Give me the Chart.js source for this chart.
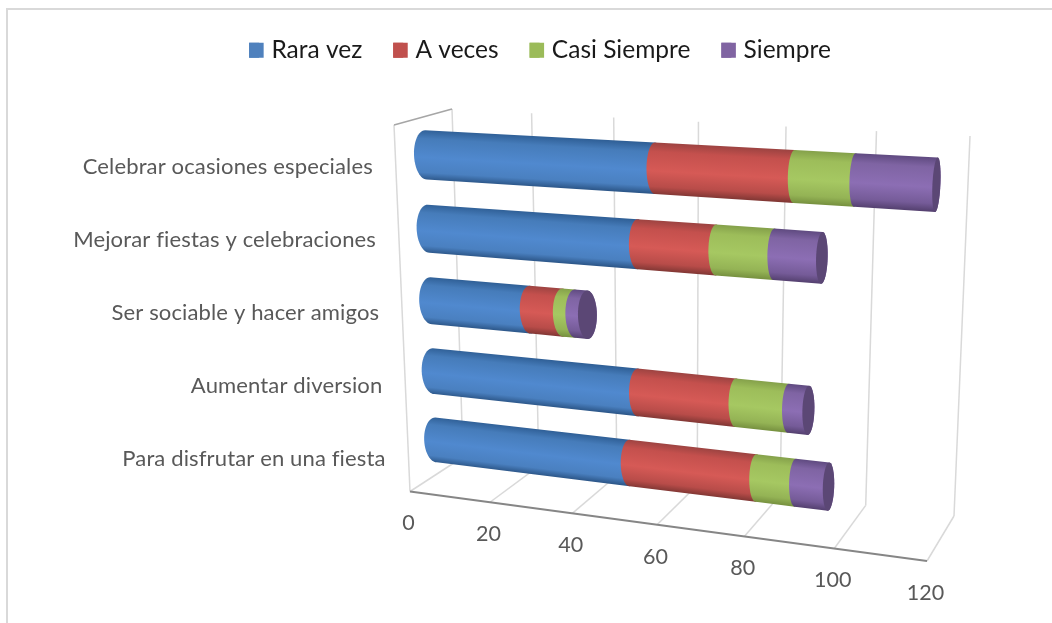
<!DOCTYPE html>
<html><head><meta charset="utf-8">
<style>html,body{margin:0;padding:0;background:#fff}canvas{display:block}</style>
<script src="https://cdn.jsdelivr.net/npm/chart.js@4"></script>
</head><body><canvas id="c" width="1052" height="623"></canvas>
<script>
const categories = ["Celebrar ocasiones especiales","Mejorar fiestas y celebraciones","Ser sociable y hacer amigos","Aumentar diversion","Para disfrutar en una fiesta"];
const rara = [55,51,25,51,49];
const aVeces = [31,18,8,23,30];
const casi = [13,13,3,12,9];
const siempre = [17,10.5,3,4.5,7.5];
const seriesNames = ["Rara vez","A veces","Casi Siempre","Siempre"];
const seriesColors = ["#4F81BD","#C0504D","#9BBB59","#8064A2"];
const shades = [
 ["#2f5f96","#467cba","#5089cf","#4a80c0","#2c5688"],
 ["#9c4341","#c4504d","#d65a56","#b84c49","#813734"],
 ["#84a04a","#9dbd5a","#a6c862","#94b355","#76903f"],
 ["#5f4a80","#7f64a3","#8c6eb4","#755b98","#54406f"]
];
const faceColor = "#5b4775";
const labelColor = "#595959";

function squareToQuad(p0,p1,p2,p3){
  const dx1=p1[0]-p2[0],dx2=p3[0]-p2[0],sx=p0[0]-p1[0]+p2[0]-p3[0];
  const dy1=p1[1]-p2[1],dy2=p3[1]-p2[1],sy=p0[1]-p1[1]+p2[1]-p3[1];
  const den=dx1*dy2-dx2*dy1;
  const g=(sx*dy2-dx2*sy)/den,h=(dx1*sy-sx*dy1)/den;
  const a=p1[0]-p0[0]+g*p1[0],b=p3[0]-p0[0]+h*p3[0],c=p0[0];
  const d=p1[1]-p0[1]+g*p1[1],e=p3[1]-p0[1]+h*p3[1],f=p0[1];
  return (u,v)=>{const w=g*u+h*v+1;return [(a*u+b*v+c)/w,(d*u+e*v+f)/w];};
}
// projection planes of the 3-D box
const wall = squareToQuad([452,109],[970,136],[954,516],[463,457]);
const front = u => {const t=u*0.915/(1-0.085*u);return [410+517*t,491.5+69.5*t];};
const midRaw = squareToQuad([426,155],[956,186],[940,500],[436,440]);
const mid = (u,v)=>midRaw(u,(v-0.1)/0.8);

function line(ctx,a,b,color,w){ctx.strokeStyle=color;ctx.lineWidth=w;ctx.beginPath();ctx.moveTo(a[0],a[1]);ctx.lineTo(b[0],b[1]);ctx.stroke();}
const capRadius = x => Math.max(3.8, 12-8*(x-426)/510);
const ell=(c,t,r,ang)=>[c[0]+Math.cos(ang)*r+Math.sin(ang)*(c[0]-t[0]),c[1]+Math.sin(ang)*(c[1]-t[1])];

function cylinderSegment(ctx,area,el,ds){
  const uA=(el.base-area.left)/area.width, uB=(el.x-area.left)/area.width;
  const vT=(el.y-el.height/2-area.top)/area.height, vB=(el.y+el.height/2-area.top)/area.height;
  const aT=mid(uA,vT),aB=mid(uA,vB),bT=mid(uB,vT),bB=mid(uB,vB);
  const ac=[(aT[0]+aB[0])/2,(aT[1]+aB[1])/2], bc=[(bT[0]+bB[0])/2,(bT[1]+bB[1])/2];
  const ra=capRadius(ac[0]), rb=capRadius(bc[0]);
  ctx.beginPath();
  const n=24;
  for(let i=0;i<=n;i++){const q=-Math.PI/2+Math.PI*i/n;const p=ell(bc,bT,rb,q);i?ctx.lineTo(p[0],p[1]):ctx.moveTo(p[0],p[1]);}
  for(let i=0;i<=n;i++){const q=Math.PI/2+Math.PI*i/n;const p=ell(ac,aT,ra,q);ctx.lineTo(p[0],p[1]);}
  ctx.closePath();
  // gradient runs across the tube, square to its axis
  let dx=bc[0]-ac[0],dy=bc[1]-ac[1];const len=Math.hypot(dx,dy)||1;dx/=len;dy/=len;
  const nx=-dy,ny=dx;
  const cx=(ac[0]+bc[0])/2,cy=(ac[1]+bc[1])/2;
  const hw=(Math.hypot(aB[0]-aT[0],aB[1]-aT[1])+Math.hypot(bB[0]-bT[0],bB[1]-bT[1]))/4;
  const g=ctx.createLinearGradient(cx-nx*hw,cy-ny*hw,cx+nx*hw,cy+ny*hw);
  const s=shades[ds];
  g.addColorStop(0,s[0]);g.addColorStop(0.18,s[1]);g.addColorStop(0.55,s[2]);g.addColorStop(0.85,s[3]);g.addColorStop(1,s[4]);
  ctx.fillStyle=g;ctx.fill();
  return {bc,bT,rb};
}

const scene = {
  id:'scene',
  beforeDraw(chart){
    const ctx=chart.ctx;
    ctx.save();
    ctx.fillStyle="#fff";ctx.fillRect(0,0,chart.width,chart.height);
    ctx.strokeStyle="#d9d9d9";ctx.lineWidth=2;
    ctx.beginPath();ctx.moveTo(7,chart.height);ctx.lineTo(7,9);ctx.lineTo(chart.width,9);ctx.stroke();
    ctx.restore();
  },
  beforeDatasetsDraw(chart){
    const ctx=chart.ctx,area=chart.chartArea,xs=chart.scales.x,ys=chart.scales.y;
    ctx.save();
    const lineGrid="#d9d9d9";
    line(ctx,[394,125],[410,491.5],lineGrid,1.5);
    xs.ticks.forEach((t,i)=>{
      const u=(xs.getPixelForTick(i)-area.left)/area.width;
      line(ctx,wall(u,0),wall(u,1),lineGrid,1.5);
      line(ctx,wall(u,1),front(u),lineGrid,1.5);
    });
    line(ctx,[394,125],[452,109],"#a6a6a6",1.5);
    line(ctx,front(0),front(1),"#868686",1.8);
    ctx.fillStyle=labelColor;ctx.font="21.5px Lato";ctx.textAlign="center";ctx.textBaseline="middle";
    xs.ticks.forEach((t,i)=>{
      const u=(xs.getPixelForTick(i)-area.left)/area.width;
      const p=front(u);
      ctx.fillText(String(t.value),p[0]-1.5,p[1]+32);
    });
    ctx.textAlign="right";
    ctx.font="22.05px Lato";
    ctx.letterSpacing="0.12px";
    categories.forEach((c,i)=>{
      const v=(ys.getPixelForTick(i)-area.top)/area.height;
      const y=130+365*v;
      const x=394+(y-125)*16/366.5-23;
      ctx.fillText(c,x,y);
    });
    ctx.letterSpacing="0px";
    categories.forEach((c,row)=>{
      let last=null;
      chart.data.datasets.forEach((d,di)=>{
        last=cylinderSegment(ctx,area,chart.getDatasetMeta(di).data[row],di);
      });
      ctx.beginPath();
      for(let i=0;i<=48;i++){const q=Math.PI*2*i/48;const p=ell(last.bc,last.bT,last.rb,q);i?ctx.lineTo(p[0],p[1]):ctx.moveTo(p[0],p[1]);}
      ctx.closePath();ctx.fillStyle=faceColor;ctx.fill();
    });
    ctx.restore();
  },
  beforeDatasetDraw(){return false;},
  afterDraw(chart){
    // legend swatches are a little wider than the gap Chart.js leaves before the text
    const ctx=chart.ctx;
    chart.legend.legendHitBoxes.forEach((b,i)=>{
      ctx.fillStyle=seriesColors[i];
      ctx.fillRect(b.left,b.top+b.height/2-7.5,14.5,15);
    });
  }
};

new Chart(document.getElementById('c'),{
  type:'bar',
  data:{labels:categories,datasets:[rara,aVeces,casi,siempre].map((d,i)=>({label:seriesNames[i],data:d,backgroundColor:seriesColors[i],categoryPercentage:1,barPercentage:0.66}))},
  options:{
    indexAxis:'y',responsive:false,animation:false,
    layout:{padding:{left:28,right:0,top:7,bottom:20}},
    plugins:{
      tooltip:{enabled:false},
      legend:{display:true,position:'top',align:'center',
        labels:{boxWidth:10,boxHeight:15,padding:31,color:"#1a1a1a",font:{family:"Lato",size:24.5}}}
    },
    scales:{
      x:{stacked:true,min:0,max:120,ticks:{stepSize:20,display:false},grid:{display:false},border:{display:false}},
      y:{stacked:true,ticks:{display:false},grid:{display:false},border:{display:false}}
    }
  },
  plugins:[scene]
});
</script></body></html>
